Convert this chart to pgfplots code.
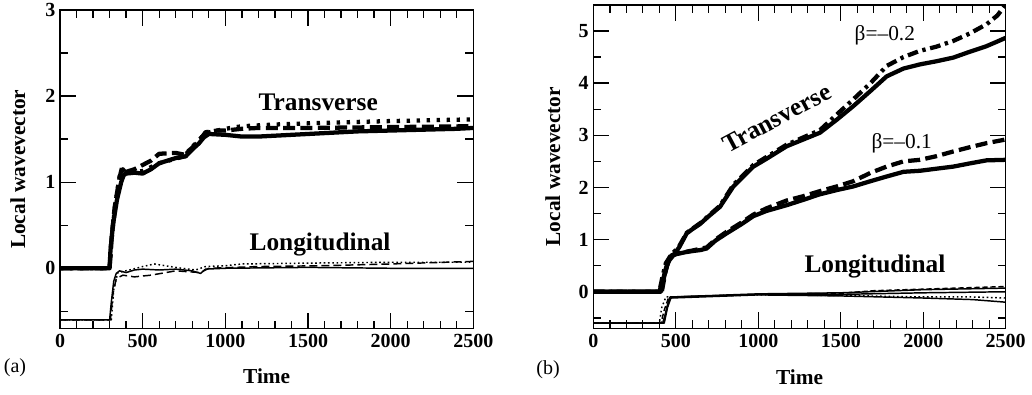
\documentclass[border=0pt]{standalone}
\usepackage{pgfplots}
\pgfplotsset{compat=1.18}
\usepackage{fontspec}
\setmainfont{Liberation Serif}
\tikzset{
  ann/.style={font=\bfseries\fontsize{19}{19}\selectfont},
  bet/.style={font=\fontsize{16}{16}\selectfont},
}
\pgfplotsset{
  common/.style={
    scale only axis,
    xmin=0, xmax=2500,
    xtick={0,500,1000,1500,2000,2500},
    minor x tick num=4,
    tick align=inside,
    major tick length=12pt,
    minor tick length=6pt,
    axis line style={line width=1pt},
    every tick/.style={line width=1pt, black},
    /pgf/number format/assume math mode=true,
    /pgf/number format/1000 sep={},
    scaled ticks=false,
    ticklabel style={font=\bfseries\fontsize{15}{15}\selectfont},
    xticklabel style={yshift=-1pt},
    label style={font=\bfseries\fontsize{16}{16}\selectfont},
    xlabel={Time},
    ylabel={Local wavevector},
    xlabel style={at={(axis description cs:0.5,-0.151)}, anchor=center},
    ylabel style={at={(axis description cs:-0.102,0.5)}, anchor=center},
    clip=true,
  },
  tr/.style={line width=3.2pt, black, line join=round},
  lo/.style={line width=1.1pt, black, line join=round},
  tdash/.style={dash pattern=on 9pt off 4pt},
  tdot/.style={dash pattern=on 2.5pt off 5pt},
  tdd/.style={dash pattern=on 8pt off 3.5pt on 2.5pt off 3.5pt},
}
\begin{document}
\begin{tikzpicture}
\path[use as bounding box] (0,0) rectangle (774pt,295.5pt);
% ---------------- (a)
\begin{axis}[common,
  at={(45pt,49.1pt)}, anchor=south west,
  width=310pt, height=238.9pt,
  ymin=-0.7, ymax=3,
  ytick={0,1,2,3},
  minor ytick={-0.5,0.5,1.5,2.5},
]
% Transverse
\addplot[tr] coordinates {(0,0)(300,0)(305,0.2)(320,0.5)(345,0.8)(370,1.0)(385,1.08)(400,1.1)(450,1.11)(500,1.1)(550,1.15)(600,1.22)(650,1.25)(700,1.28)(760,1.3)(800,1.38)(840,1.45)(870,1.52)(900,1.56)(1000,1.55)(1100,1.53)(1200,1.53)(1400,1.55)(1600,1.57)(1800,1.59)(2000,1.6)(2200,1.61)(2400,1.62)(2500,1.63)};
\addplot[tr,tdash] coordinates {(0,0)(300,0)(310,0.3)(330,0.7)(360,1.05)(375,1.17)(400,1.12)(450,1.15)(500,1.2)(550,1.25)(600,1.33)(700,1.34)(750,1.32)(800,1.4)(850,1.5)(880,1.58)(950,1.6)(1000,1.6)(1100,1.62)(1200,1.63)(1500,1.63)(2000,1.64)(2500,1.65)};
\addplot[tr,tdot] coordinates {(0,0)(300,0)(310,0.3)(335,0.75)(365,1.12)(380,1.15)(400,1.1)(500,1.13)(600,1.22)(750,1.3)(820,1.45)(880,1.57)(1000,1.62)(1100,1.65)(1300,1.67)(1600,1.69)(2000,1.71)(2500,1.73)};
% Longitudinal
\addplot[lo] coordinates {(0,-0.6)(300,-0.6)(310,-0.4)(325,-0.15)(340,-0.06)(360,-0.03)(400,-0.05)(450,-0.02)(500,-0.01)(600,-0.02)(700,-0.01)(800,-0.03)(850,-0.06)(880,-0.01)(1000,0)(1500,0.01)(2000,0.0)(2500,0.0)};
\addplot[lo,dash pattern=on 6pt off 3pt] coordinates {(0,-0.6)(305,-0.6)(320,-0.3)(340,-0.12)(380,-0.08)(450,-0.1)(550,-0.08)(700,-0.03)(850,-0.05)(900,0)(1200,0.02)(1600,0.03)(2000,0.05)(2500,0.08)};
\addplot[lo,dash pattern=on 1.2pt off 2pt] coordinates {(0,-0.6)(310,-0.6)(325,-0.25)(350,-0.05)(420,-0.02)(500,0.02)(570,0.05)(700,0.01)(820,-0.02)(880,0.02)(1000,0.03)(1100,0.05)(1500,0.06)(2000,0.07)(2500,0.07)};
\node[ann] at (axis cs:1562,1.93) {Transverse};
\node[ann] at (axis cs:1573,0.28) {Longitudinal};
\end{axis}
% ---------------- (b)
\begin{axis}[common,
  at={(445pt,49.3pt)}, anchor=south west,
  width=309.3pt, height=242.5pt,
  ymin=-0.7, ymax=5.5,
  ytick={0,1,2,3,4,5},
  minor ytick={-0.5,0.5,1.5,2.5,3.5,4.5},
  xlabel style={at={(axis description cs:0.5,-0.150)}, anchor=center},
  ylabel style={at={(axis description cs:-0.098,0.5)}, anchor=center},
]
% beta=-0.2
\addplot[tr] coordinates {(0,0)(400,0)(420,0.2)(440,0.45)(460,0.6)(485,0.7)(520,0.85)(566,1.12)(600,1.2)(647,1.3)(700,1.45)(768,1.63)(849,2.02)(970,2.4)(1050,2.55)(1172,2.79)(1374,3.05)(1476,3.3)(1576,3.56)(1680,3.85)(1778,4.13)(1880,4.28)(1980,4.36)(2080,4.42)(2182,4.49)(2280,4.6)(2384,4.71)(2450,4.8)(2500,4.87)};
\addplot[tr,tdd] coordinates {(0,0)(400,0)(420,0.3)(440,0.55)(470,0.7)(520,0.87)(566,1.13)(650,1.32)(768,1.65)(849,2.05)(970,2.43)(1172,2.82)(1374,3.1)(1476,3.4)(1576,3.69)(1680,4.0)(1778,4.33)(1880,4.5)(1980,4.62)(2080,4.7)(2182,4.81)(2280,4.95)(2384,5.13)(2450,5.3)(2500,5.51)};
% beta=-0.1
\addplot[tr] coordinates {(0,0)(410,0)(430,0.3)(450,0.55)(470,0.68)(500,0.72)(560,0.76)(600,0.78)(650,0.8)(687,0.83)(740,0.98)(808,1.12)(900,1.3)(970,1.45)(1050,1.55)(1172,1.66)(1270,1.76)(1374,1.87)(1476,1.95)(1576,2.02)(1680,2.12)(1778,2.21)(1880,2.3)(1980,2.32)(2080,2.36)(2182,2.4)(2280,2.46)(2384,2.52)(2500,2.53)};
\addplot[tr,tdash] coordinates {(0,0)(415,0)(435,0.35)(455,0.6)(475,0.7)(520,0.74)(600,0.79)(687,0.85)(740,1.0)(808,1.15)(900,1.33)(970,1.48)(1050,1.6)(1172,1.75)(1270,1.83)(1374,1.93)(1476,2.02)(1576,2.12)(1680,2.28)(1778,2.40)(1880,2.5)(1980,2.53)(2080,2.6)(2182,2.69)(2280,2.77)(2384,2.85)(2500,2.92)};
% Longitudinal
\addplot[lo] coordinates {(0,-0.6)(420,-0.6)(440,-0.4)(460,-0.15)(480,-0.1)(700,-0.08)(1000,-0.05)(1500,-0.05)(2000,-0.02)(2500,0.0)};
\addplot[lo,dash pattern=on 4pt off 2pt] coordinates {(0,-0.6)(410,-0.6)(430,-0.35)(455,-0.12)(500,-0.1)(1000,-0.05)(1500,-0.03)(1700,0.02)(2000,0.05)(2500,0.1)};
\addplot[lo,dash pattern=on 1.2pt off 2pt] coordinates {(0,-0.6)(400,-0.6)(415,-0.3)(440,-0.1)(500,-0.1)(1000,-0.06)(1500,-0.07)(2000,-0.1)(2300,-0.1)(2500,-0.12)};
\addplot[lo] coordinates {(0,-0.6)(430,-0.6)(450,-0.3)(470,-0.12)(1000,-0.06)(1500,-0.08)(2000,-0.12)(2300,-0.15)(2500,-0.2)};
\addplot[lo] coordinates {(0,-0.6)(425,-0.6)(445,-0.3)(465,-0.1)(1000,-0.04)(1500,-0.02)(2000,0.04)(2500,0.07)};
\node[ann,rotate=28] at (axis cs:1112,3.33) {Transverse};
\node[ann] at (axis cs:1707,0.48) {Longitudinal};
\node[bet] at (axis cs:1767,4.92) {β=–0.2};
\node[bet] at (axis cs:1869,2.85) {β=–0.1};
\end{axis}
\node[font=\fontsize{15}{15}\selectfont] at (11.25pt,19.5pt) {(a)};
\node[font=\fontsize{15}{15}\selectfont] at (411pt,18pt) {(b)};
\end{tikzpicture}
\end{document}
